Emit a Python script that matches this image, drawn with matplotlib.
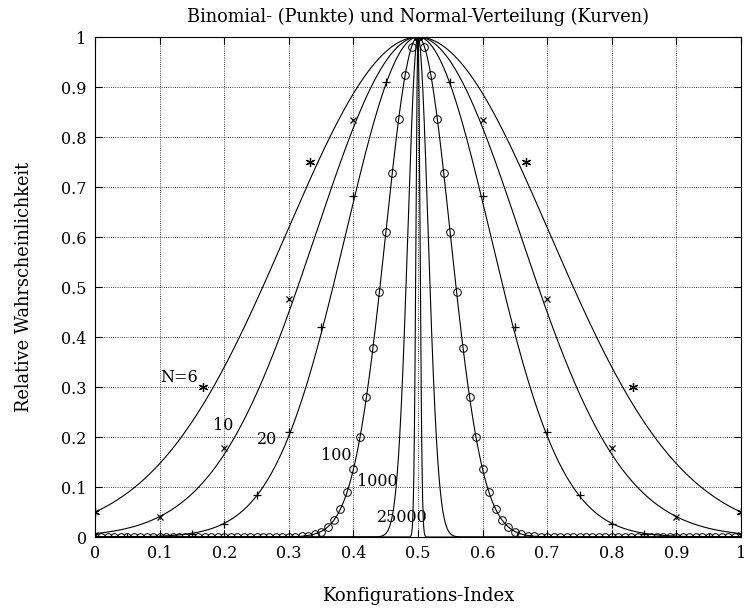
import numpy as np
import matplotlib
matplotlib.use('Agg')
import matplotlib.pyplot as plt

plt.rcParams['font.family'] = ['DejaVu Serif']

# Binomialverteilung, relativ zum Maximum
N_values = [6, 10, 20, 100, 1000, 25000]

binom_6 = [0.05, 0.3, 0.75, 1.0, 0.75, 0.3, 0.05]
binom_10 = [0.004, 0.0397, 0.1786, 0.4762, 0.8333, 1.0,
            0.8333, 0.4762, 0.1786, 0.0397, 0.004]
binom_20 = [0.0, 0.0001, 0.001, 0.0062, 0.0262, 0.0839, 0.2098, 0.4196, 0.6818, 0.9091, 1.0,
            0.9091, 0.6818, 0.4196, 0.2098, 0.0839, 0.0262, 0.0062, 0.001, 0.0001, 0.0]
binom_100 = [0.0, 0.0, 0.0, 0.0, 0.0, 0.0, 0.0, 0.0, 0.0, 0.0,
             0.0, 0.0, 0.0, 0.0, 0.0, 0.0, 0.0, 0.0, 0.0, 0.0,
             0.0, 0.0, 0.0, 0.0, 0.0, 0.0, 0.0, 0.0, 0.0001, 0.0001,
             0.0003, 0.0007, 0.0014, 0.0029, 0.0058, 0.0109, 0.0196, 0.0339, 0.0562, 0.0893,
             0.1363, 0.1994, 0.2801, 0.3778, 0.4894, 0.6091, 0.7282, 0.8367, 0.9238, 0.9804,
             1.0,
             0.9804, 0.9238, 0.8367, 0.7282, 0.6091, 0.4894, 0.3778, 0.2801, 0.1994, 0.1363,
             0.0893, 0.0562, 0.0339, 0.0196, 0.0109, 0.0058, 0.0029, 0.0014, 0.0007, 0.0003,
             0.0001, 0.0001, 0.0, 0.0, 0.0, 0.0, 0.0, 0.0, 0.0, 0.0,
             0.0, 0.0, 0.0, 0.0, 0.0, 0.0, 0.0, 0.0, 0.0, 0.0,
             0.0, 0.0, 0.0, 0.0, 0.0, 0.0, 0.0, 0.0, 0.0, 0.0]

# '*' als Sternchen aus Strichen wie im Original
binom_series = [(binom_6, (6, 2, 0), 6.5), (binom_10, 'x', 5), (binom_20, '+', 5.5),
                (binom_100, 'o', 5.5)]

curve_labels = ['N=6', '10', '20', '100', '1000', '25000']
label_pos = [(0.13, 0.32), (0.198, 0.224), (0.267, 0.194),
             (0.373, 0.162), (0.437, 0.11), (0.475, 0.04)]

ticks = [0, 0.1, 0.2, 0.3, 0.4, 0.5, 0.6, 0.7, 0.8, 0.9, 1]
tick_labels = ['0', '0.1', '0.2', '0.3', '0.4', '0.5', '0.6', '0.7', '0.8', '0.9', '1']

fig = plt.figure(figsize=(7.46, 6.11), dpi=100)
ax = fig.add_axes([95 / 746, (611 - 537) / 611, (741 - 95) / 746, 500 / 611])

# Normalverteilung als Kurven
x = np.linspace(0, 1, 20001)
for N in N_values:
    ax.plot(x, np.exp(-2 * N * (x - 0.5) ** 2), color='black', lw=0.8)

for vals, marker, size in binom_series:
    n = len(vals) - 1
    xk = np.arange(n + 1) / n
    if marker == 'o':
        ax.plot(xk, vals, linestyle='none', marker='o', ms=size, mfc='none',
                mec='black', mew=0.7)
    else:
        ax.plot(xk, vals, linestyle='none', marker=marker, ms=size, color='black', mew=0.9)

for lab, (lx, ly) in zip(curve_labels, label_pos):
    ax.text(lx, ly, lab, ha='center', va='center', fontsize=11.5)

ax.set_xlim(0, 1)
ax.set_ylim(0, 1)
ax.set_xticks(ticks)
ax.set_xticklabels(tick_labels)
ax.set_yticks(ticks)
ax.set_yticklabels(tick_labels)
ax.tick_params(direction='in', top=True, right=True, length=5, width=0.8,
               labelsize=11.5, pad=6)
ax.grid(True, linestyle=':', color='black', lw=0.6)
for s in ax.spines.values():
    s.set_linewidth(0.8)

ax.set_title('Binomial- (Punkte) und Normal-Verteilung (Kurven)', fontsize=12.8, pad=11)
ax.set_xlabel('Konfigurations-Index', fontsize=13, labelpad=18)
ax.set_ylabel('Relative Wahrscheinlichkeit', fontsize=12.8, labelpad=20)

fig.savefig('out.png', dpi=100)
